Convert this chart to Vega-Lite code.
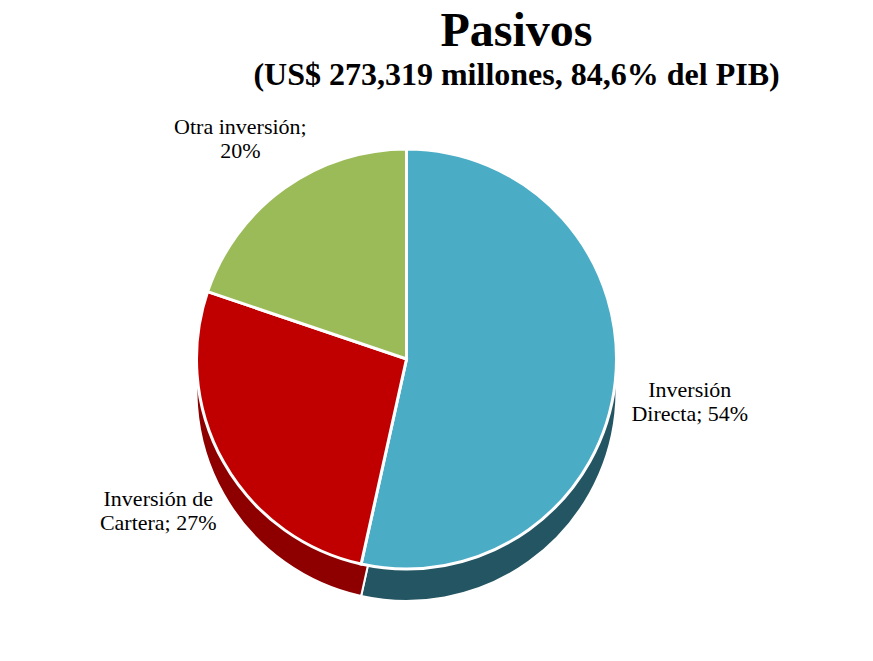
{
  "$schema": "https://vega.github.io/schema/vega-lite/v6.json",
  "autosize": {"type": "fit", "contains": "padding"},
  "width": 873,
  "height": 661,
  "padding": {"left": 0, "right": 60, "top": 8, "bottom": 40},
  "background": "white",
  "title": {
    "text": "Pasivos",
    "subtitle": "(US$ 273,319 millones, 84,6% del PIB)",
    "font": "Liberation Serif",
    "fontSize": 48,
    "fontWeight": "bold",
    "color": "black",
    "subtitleFont": "Liberation Serif",
    "subtitleFontSize": 32,
    "subtitleFontWeight": "bold",
    "subtitleColor": "black",
    "subtitlePadding": 4,
    "anchor": "middle",
    "dx": 110,
    "offset": 6
  },
  "data": {
    "values": [
      {"categoria": "Inversión Directa", "orden": 1, "valor": 54, "etiqueta": "Inversión|Directa; 54%"},
      {"categoria": "Inversión de Cartera", "orden": 2, "valor": 27, "etiqueta": "Inversión de|Cartera; 27%"},
      {"categoria": "Otra inversión", "orden": 3, "valor": 20, "etiqueta": "Otra inversión;|20%"}
    ]
  },
  "encoding": {
    "theta": {"field": "valor", "type": "quantitative", "stack": true},
    "order": {"field": "orden", "type": "quantitative"}
  },
  "layer": [
    {
      "mark": {"type": "arc", "outerRadius": 210, "yOffset": 32, "stroke": "white", "strokeWidth": 2},
      "encoding": {
        "color": {
          "field": "categoria",
          "type": "nominal",
          "legend": null,
          "scale": {"domain": ["Inversión Directa", "Inversión de Cartera", "Otra inversión"], "range": ["#245563", "#8E0000", "#4F6228"]}
        }
      }
    },
    {
      "mark": {"type": "arc", "outerRadius": 210, "stroke": "white", "strokeWidth": 3},
      "encoding": {
        "color": {
          "field": "categoria",
          "type": "nominal",
          "legend": null,
          "scale": {"domain": ["Inversión Directa", "Inversión de Cartera", "Otra inversión"], "range": ["#4BACC6", "#C00000", "#9BBB59"]}
        }
      }
    },
    {
      "mark": {"type": "text", "radius": 285, "font": "Liberation Serif", "fontSize": 22, "color": "black", "lineBreak": "|", "align": "center", "baseline": "middle"},
      "encoding": {
        "text": {"field": "etiqueta", "type": "nominal"}
      }
    }
  ],
  "resolve": {"scale": {"color": "independent"}},
  "config": {"view": {"stroke": null}}
}
